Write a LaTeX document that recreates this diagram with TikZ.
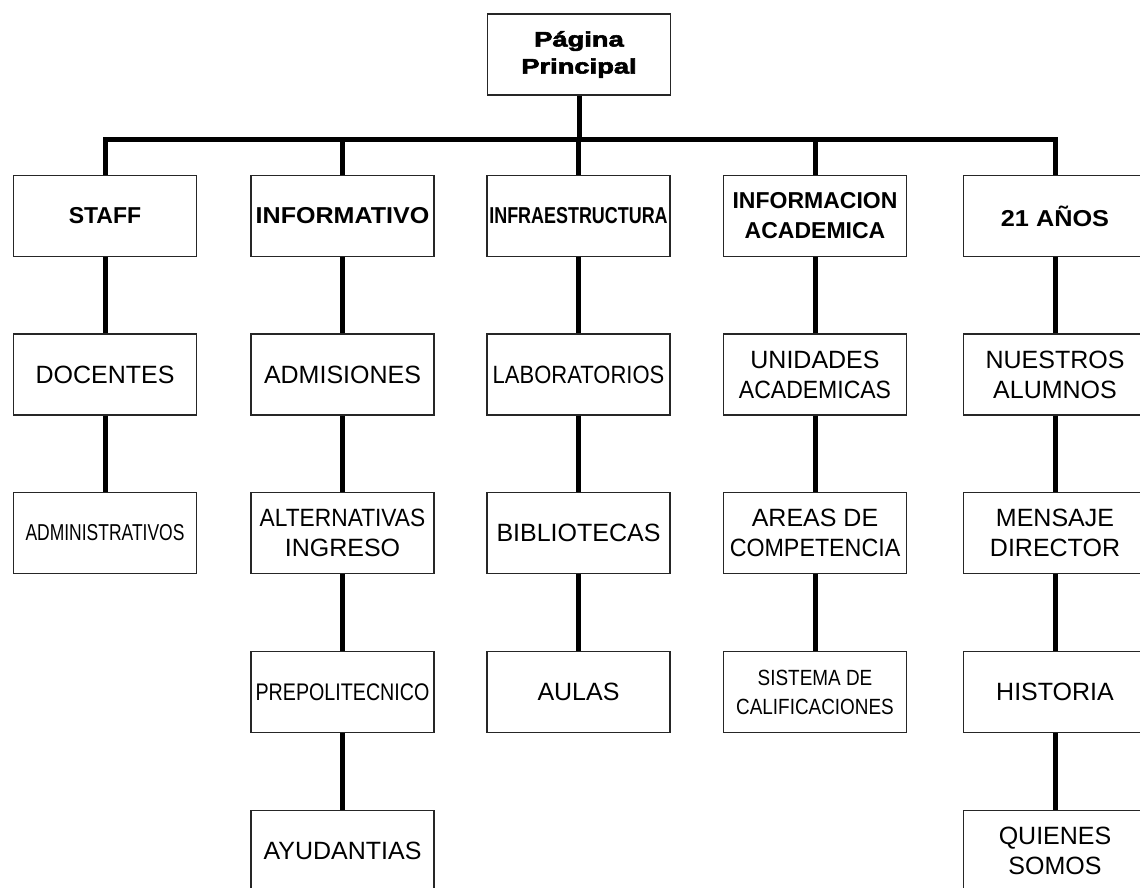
\documentclass[tikz,border=0pt]{standalone}
\usepackage{fontspec}
\setmainfont{Liberation Sans}
\newfontfamily\heavyfont[BoldFeatures={FakeBold=2.5}]{Liberation Sans}
\usepackage{graphicx}

\tikzset{every picture/.style={line width=0.75pt}}
\tikzset{
  box/.style={draw=black!85, line width=1.3pt, fill=white, minimum width=183pt, minimum height=81pt,
    inner sep=1pt, align=center, font=\fontsize{25}{30}\selectfont},
  head/.style={box, font=\fontsize{23}{30}\selectfont\bfseries},
  conn/.style={line width=5pt, line join=miter}
}

\begin{document}
\begin{tikzpicture}[x=1pt,y=1pt,yscale=-1,xscale=1]
\clip (0,0) rectangle (1140,888); %page of 1140 x 888, right and bottom boxes are cut

% Text Node
\node [box, font=\fontsize{21}{27}\selectfont\heavyfont\bfseries] (pagina) at (579,54.5) {\scalebox{1.3}[1]{Página}\\\scalebox{1.3}[1]{Principal}};

% Text Node
\node [head] (staff) at (105,216) {STAFF};
% Text Node
\node [head] (info) at (342.5,216) {\scalebox{1.09}[1]{INFORMATIVO}};
% Text Node
\node [head] (infra) at (578.5,216) {\scalebox{0.78}[1]{INFRAESTRUCTURA}};
% Text Node
\node [head] (acad) at (815,216) {INFORMACION\\ACADEMICA};
% Text Node
\node [head] (anos) at (1055,216) {\scalebox{1.1}[1]{21 AÑOS}};

% Text Node
\node [box] (docentes) at (105,374.5) {DOCENTES};
% Text Node
\node [box, font=\fontsize{23}{28}\selectfont] (admin) at (105,533) {\scalebox{0.76}[1]{ADMINISTRATIVOS}};

% Text Node
\node [box] (admisiones) at (342.5,374.5) {ADMISIONES};
% Text Node
\node [box] (alternativas) at (342.5,533) {\scalebox{0.91}[1]{ALTERNATIVAS}\\INGRESO};
% Text Node
\node [box, font=\fontsize{24}{28}\selectfont] (prepo) at (342.5,692) {\scalebox{0.82}[1]{PREPOLITECNICO}};
% Text Node
\node [box] (ayudantias) at (342.5,851) {AYUDANTIAS};

% Text Node
\node [box] (labs) at (578.5,374.5) {\scalebox{0.88}[1]{LABORATORIOS}};
% Text Node
\node [box] (biblio) at (578.5,533) {BIBLIOTECAS};
% Text Node
\node [box] (aulas) at (578.5,692) {AULAS};

% Text Node
\node [box] (unidades) at (815,374.5) {UNIDADES\\\scalebox{0.92}[1]{ACADEMICAS}};
% Text Node
\node [box] (areas) at (815,533) {AREAS DE\\\scalebox{0.93}[1]{COMPETENCIA}};
% Text Node
\node [box, font=\fontsize{22}{29}\selectfont] (sistema) at (815,692) {\scalebox{0.86}[1]{SISTEMA DE}\\\scalebox{0.86}[1]{CALIFICACIONES}};

% Text Node
\node [box] (alumnos) at (1055,374.5) {NUESTROS\\ALUMNOS};
% Text Node
\node [box] (mensaje) at (1055,533) {MENSAJE\\DIRECTOR};
% Text Node
\node [box] (historia) at (1055,692) {HISTORIA};
% Text Node
\node [box] (quienes) at (1055,851) {QUIENES\\SOMOS};

%Straight Lines
\coordinate (bus) at (579,140);
\draw [conn] (pagina.south) -- (pagina.south |- bus);
\draw [conn] (staff.north) |- (anos.north |- bus) -- (anos.north);
\foreach \n in {info,infra,acad}
  \draw [conn] (\n.north) -- (\n.north |- bus);

%Straight Lines
\foreach \a/\b in {staff/docentes,docentes/admin,
    info/admisiones,admisiones/alternativas,alternativas/prepo,prepo/ayudantias,
    infra/labs,labs/biblio,biblio/aulas,
    acad/unidades,unidades/areas,areas/sistema,
    anos/alumnos,alumnos/mensaje,mensaje/historia,historia/quienes}
  \draw [conn] (\a.south) -- (\b.north);
\end{tikzpicture}
\end{document}
